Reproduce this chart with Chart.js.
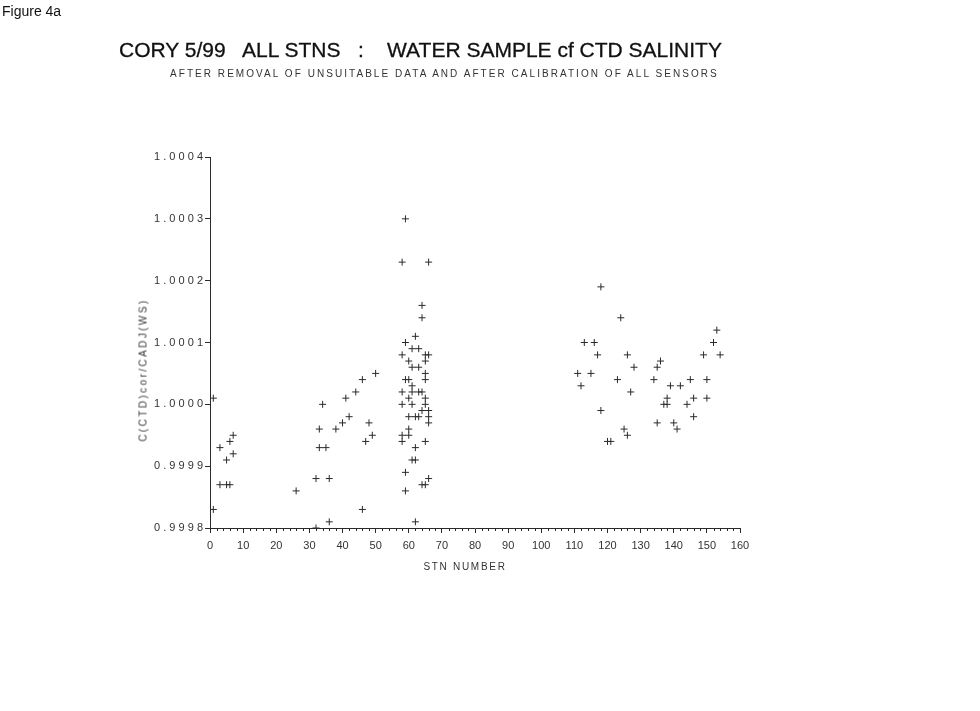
<!DOCTYPE html>
<html>
<head>
<meta charset="utf-8">
<script src="https://cdn.jsdelivr.net/npm/chart.js@4"></script>
<style>
    html, body { margin: 0; padding: 0; background: #fff; }
    #wrap { position: relative; width: 980px; height: 711px; overflow: hidden; }
    #chart { position: absolute; left: 0; top: 0; }
    .txt { position: absolute; white-space: pre; color: #111; font-family: "Liberation Sans", Arial, sans-serif; }
    #fig { left: 2px; top: 3px; font-size: 14px; }
    #title { left: 119px; top: 38px; font-size: 21px; -webkit-text-stroke: 0.3px #111; }
    #subtitle { left: 170px; top: 68px; font-size: 10px; letter-spacing: 2.05px; color: #333; }
    .axis-title { font-size: 10px; color: #333; transform: translate(-50%, -50%); }
    #ytitle { left: 143px; top: 370px; letter-spacing: 2.4px; transform: translate(-50%, -50%) rotate(-90deg); }
    #xtitle { left: 465px; top: 566px; letter-spacing: 1.7px; }
</style>
</head>
<body>
<div id="wrap">
    <canvas id="chart" width="980" height="711"></canvas>
    <div class="txt" id="fig">Figure 4a</div>
    <div class="txt" id="title">CORY 5/99   ALL STNS   :    WATER SAMPLE cf CTD SALINITY</div>
    <div class="txt" id="subtitle">AFTER REMOVAL OF UNSUITABLE DATA AND AFTER CALIBRATION OF ALL SENSORS</div>
    <div class="txt axis-title" id="ytitle">C(CTD)cor/CADJ(WS)</div>
    <div class="txt axis-title" id="xtitle">STN NUMBER</div>
</div>
<script>
// Station numbers (one entry per water sample)
const stnNumbers = [
    1, 1, 3, 3, 5, 5, 6, 6, 7, 7,
    26, 32, 32, 33, 33, 35, 34, 36, 36, 38, 40, 41, 42, 44, 46, 46, 47, 48, 49, 50,
    59, 58, 66, 64, 64, 62, 59, 61, 63, 58, 65, 66, 60, 65, 61, 63, 65, 59, 60, 65,
    61, 58, 61, 63, 64, 60, 65, 58, 61, 65, 64, 66, 60, 62, 63, 66, 66, 60, 58, 60,
    58, 65, 62, 61, 62, 59, 66, 64, 65, 59, 62,
    118, 124, 113, 116, 117, 126, 128, 111, 115, 112, 123, 127, 118, 125, 126, 120, 121,
    153, 152, 149, 154, 136, 135, 134, 145, 150, 139, 142, 138, 146, 150, 137, 138, 144,
    146, 135, 140, 141
];

// C(CTD)cor / CADJ(WS) ratio for each sample above
const ratioValues = [
    1.00001, 0.99983, 0.99993, 0.99987, 0.99991, 0.99987, 0.99987, 0.99994, 0.99995, 0.99992,
    0.99986, 0.99988, 0.99980, 0.99996, 0.99993, 0.99993, 1.00000, 0.99988, 0.99981, 0.99996,
    0.99997, 1.00001, 0.99998, 1.00002, 0.99983, 1.00004, 0.99994, 0.99997, 0.99995, 1.00005,
    1.00030, 1.00023, 1.00023, 1.00016, 1.00014, 1.00011, 1.00010, 1.00009, 1.00009, 1.00008,
    1.00008, 1.00008, 1.00007, 1.00007, 1.00006, 1.00006, 1.00005, 1.00004, 1.00004, 1.00004,
    1.00003, 1.00002, 1.00002, 1.00002, 1.00002, 1.00001, 1.00001, 1.00000, 1.00000, 1.00000,
    0.99999, 0.99999, 0.99998, 0.99998, 0.99998, 0.99998, 0.99997, 0.99996, 0.99995, 0.99995,
    0.99994, 0.99994, 0.99993, 0.99991, 0.99991, 0.99989, 0.99988, 0.99987, 0.99987, 0.99986,
    0.99981,
    1.00019, 1.00014, 1.00010, 1.00010, 1.00008, 1.00008, 1.00006, 1.00005, 1.00005, 1.00003,
    1.00004, 1.00002, 0.99999, 0.99996, 0.99995, 0.99994, 0.99994,
    1.00012, 1.00010, 1.00008, 1.00008, 1.00007, 1.00006, 1.00004, 1.00004, 1.00004, 1.00003,
    1.00003, 1.00001, 1.00001, 1.00001, 1.00000, 1.00000, 1.00000,
    0.99998, 0.99997, 0.99997, 0.99996
];

// Axis ranges and ticks
const xRange = [0, 160];
const xTickStep = 10;
const xMinorStep = 2;
const yRange = [0.9998, 1.0004];
const yTickStep = 0.0001;

const INK = '#2a2a2a';

// Minor ticks on the x axis (every 2 stations)
const minorTicksPlugin = {
    id: 'minorTicks',
    afterDraw(chart) {
        const xs = chart.scales.x;
        const ctx = chart.ctx;
        const y0 = chart.chartArea.bottom;
        ctx.save();
        ctx.strokeStyle = INK;
        ctx.lineWidth = 1;
        ctx.beginPath();
        for (let v = xRange[0]; v <= xRange[1]; v += xMinorStep) {
            if (v % xTickStep === 0) continue;
            const px = Math.round(xs.getPixelForValue(v)) + 0.5;
            ctx.moveTo(px, y0);
            ctx.lineTo(px, y0 + 3);
        }
        ctx.stroke();
        ctx.restore();
    }
};

const points = stnNumbers.map((x, i) => ({ x: x, y: ratioValues[i] }));

new Chart(document.getElementById('chart'), {
    type: 'scatter',
    data: {
        datasets: [{
            data: points,
            pointStyle: 'cross',
            pointRadius: 3.5,
            pointBorderColor: INK,
            pointBorderWidth: 1,
            pointBackgroundColor: INK
        }]
    },
    plugins: [minorTicksPlugin],
    options: {
        responsive: false,
        animation: false,
        events: [],
        layout: {
            padding: { left: 137, right: 240, top: 157, bottom: 139 }
        },
        plugins: {
            legend: { display: false },
            tooltip: { enabled: false }
        },
        scales: {
            x: {
                type: 'linear',
                min: xRange[0],
                max: xRange[1],
                afterFit(scale) { scale.height = 44; },
                border: { display: true, color: INK, width: 1 },
                grid: { drawOnChartArea: false, drawTicks: true, tickLength: 5, color: INK },
                ticks: {
                    stepSize: xTickStep,
                    padding: 6,
                    color: '#333',
                    maxRotation: 0,
                    font: { family: 'Liberation Sans', size: 11 }
                }
            },
            y: {
                type: 'linear',
                min: yRange[0],
                max: yRange[1],
                afterFit(scale) { scale.width = 73; },
                border: { display: true, color: INK, width: 1 },
                grid: { drawOnChartArea: false, drawTicks: true, tickLength: 5, color: INK },
                ticks: {
                    stepSize: yTickStep,
                    padding: 2,
                    color: '#333',
                    font: { family: 'Liberation Sans', size: 11 },
                    callback: (v) => Number(v).toFixed(4).split('').join(' ')
                }
            }
        }
    }
});
</script>
</body>
</html>
